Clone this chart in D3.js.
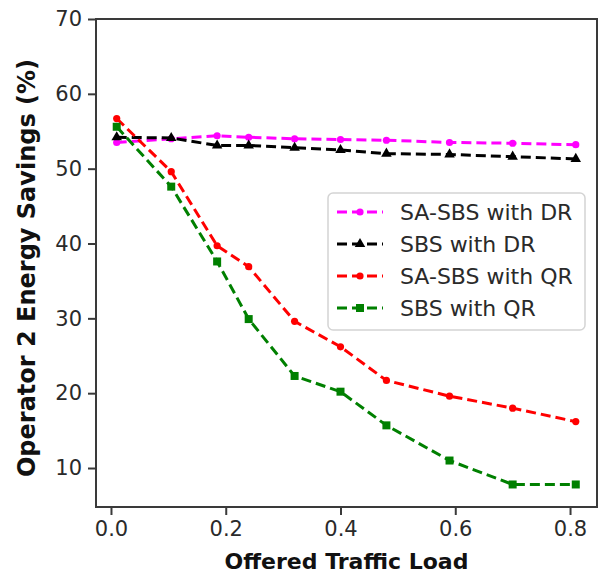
<!DOCTYPE html>
<html>
<head>
<meta charset="utf-8">
<script src="https://cdn.jsdelivr.net/npm/d3@7"></script>
<style>
  html, body { margin: 0; padding: 0; background: #fff; }
  svg { display: block; font-family: "DejaVu Sans", sans-serif; }
</style>
</head>
<body>
<svg id="chart" width="602" height="574"></svg>
<script>
// ---- data ----
const loads = [0.01, 0.105, 0.185, 0.24, 0.32, 0.40, 0.48, 0.59, 0.70, 0.81];
const saSbsDR = [53.5, 54.0, 54.4, 54.2, 54.0, 53.9, 53.8, 53.5, 53.4, 53.2];
const sbsDR   = [54.2, 54.1, 53.1, 53.1, 52.8, 52.5, 52.0, 51.9, 51.6, 51.3];
const saSbsQR = [56.7, 49.6, 39.7, 36.9, 29.6, 26.2, 21.7, 19.6, 18.0, 16.2];
const sbsQR   = [55.6, 47.6, 37.6, 29.9, 22.3, 20.2, 15.7, 11.0, 7.8, 7.8];
const seriesNames = ["SA-SBS with DR", "SBS with DR", "SA-SBS with QR", "SBS with QR"];
const xTicks = [0.0, 0.2, 0.4, 0.6, 0.8];
const yTicks = [10, 20, 30, 40, 50, 60, 70];
const xTitle = "Offered Traffic Load";
const yTitle = "Operator 2 Energy Savings (%)";

const series = [
  { name: seriesNames[0], values: saSbsDR, color: "#ff00ff", marker: "circle" },
  { name: seriesNames[1], values: sbsDR,   color: "#000000", marker: "triangle" },
  { name: seriesNames[2], values: saSbsQR, color: "#ff0000", marker: "circle" },
  { name: seriesNames[3], values: sbsQR,   color: "#008000", marker: "square" }
];

// ---- layout ----
const L = 96, R = 597, T = 19, B = 507;
const svg = d3.select("#chart");
const x = d3.scaleLinear().domain([-0.0261, 0.847]).range([L, R]);
const y = d3.scaleLinear().domain([4.79, 70]).range([B, T]);
const axisColor = "#3a3a3a";
const textColor = "#2a2a2a";

// axes
const xAxis = svg.append("g").attr("transform", `translate(0,${B})`)
  .call(d3.axisBottom(x).tickValues(xTicks).tickFormat(d3.format(".1f")).tickSize(8).tickPadding(6));
const yAxis = svg.append("g").attr("transform", `translate(${L},0)`)
  .call(d3.axisLeft(y).tickValues(yTicks).tickFormat(d3.format("d")).tickSize(8).tickPadding(6));
[xAxis, yAxis].forEach(g => {
  g.select(".domain").remove();
  g.selectAll(".tick line").attr("stroke", axisColor).attr("stroke-width", 2);
  g.selectAll(".tick text").attr("fill", textColor)
    .style("font-family", "'DejaVu Sans', sans-serif").style("font-size", "21px");
});

// frame
svg.append("rect").attr("x", L).attr("y", T).attr("width", R - L).attr("height", B - T)
  .attr("fill", "none").attr("stroke", axisColor).attr("stroke-width", 2);

// titles
svg.append("text").attr("x", (L + R) / 2).attr("y", 569).attr("text-anchor", "middle")
  .attr("font-weight", "bold").attr("font-size", 22).attr("fill", "#111").text(xTitle);
svg.append("text").attr("transform", `translate(35,268) rotate(-90)`)
  .attr("text-anchor", "middle").attr("font-weight", "bold").attr("font-size", 24)
  .attr("fill", "#111").text(yTitle);

// markers
function drawMarker(g, type, cx, cy, color) {
  if (type === "circle") {
    g.append("circle").attr("cx", cx).attr("cy", cy).attr("r", 3.6).attr("fill", color);
  } else if (type === "square") {
    g.append("rect").attr("x", cx - 4).attr("y", cy - 4).attr("width", 8).attr("height", 8).attr("fill", color);
  } else {
    const s = d3.symbol().type(d3.symbolTriangle).size(48);
    g.append("path").attr("d", s()).attr("transform", `translate(${cx},${cy})`).attr("fill", color);
  }
}

const line = d3.line().x(d => x(d[0])).y(d => y(d[1]));
const plot = svg.append("g");
series.forEach(s => {
  const pts = loads.map((l, i) => [l, s.values[i]]);
  plot.append("path").attr("d", line(pts)).attr("fill", "none").attr("stroke", s.color)
    .attr("stroke-width", 3).attr("stroke-dasharray", "10,5");
  pts.forEach(p => drawMarker(plot, s.marker, x(p[0]), y(p[1]), s.color));
});

// legend
const lg = svg.append("g");
lg.append("rect").attr("x", 328).attr("y", 193).attr("width", 257).attr("height", 137)
  .attr("rx", 5).attr("fill", "#fff").attr("fill-opacity", 0.85)
  .attr("stroke", "#d4d4d4").attr("stroke-width", 1.5);
series.forEach((s, i) => {
  const cy = 212 + i * 32;
  lg.append("line").attr("x1", 337).attr("x2", 383).attr("y1", cy).attr("y2", cy)
    .attr("stroke", s.color).attr("stroke-width", 3).attr("stroke-dasharray", "10,5");
  drawMarker(lg, s.marker, 360, cy, s.color);
  lg.append("text").attr("x", 400).attr("y", cy).attr("dy", "0.36em")
    .attr("font-size", 22).attr("fill", textColor).text(s.name);
});
</script>
</body>
</html>
